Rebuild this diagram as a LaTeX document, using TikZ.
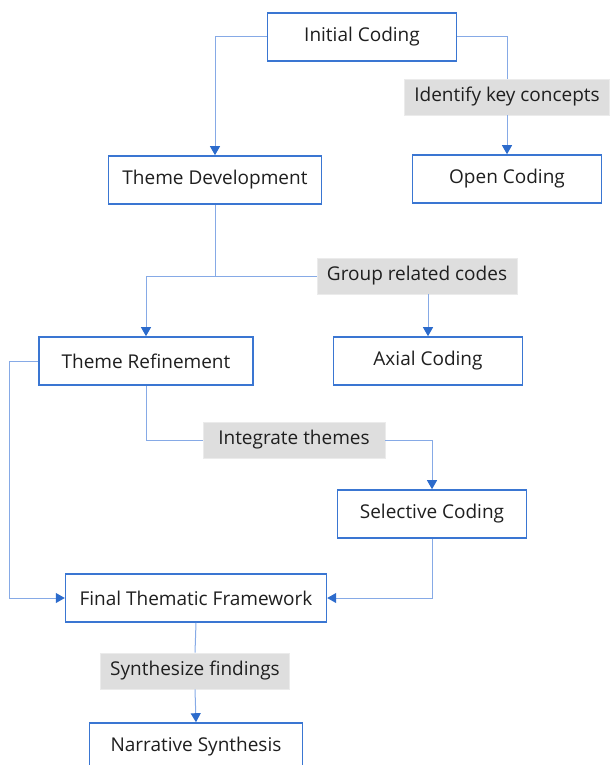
\documentclass[tikz,border=0pt]{standalone}
\usepackage{fontspec}
\setmainfont{Open Sans}
\usetikzlibrary{arrows.meta, positioning}
\definecolor{codeBorder}{HTML}{3a76d2}
\definecolor{codeLine}{HTML}{86aae6}
\definecolor{codeTip}{HTML}{2c6bcc}
\definecolor{codeTag}{HTML}{dedede}
\definecolor{codeInk}{HTML}{1f1f1f}

\begin{document}
\begin{tikzpicture}[x=1pt, y=-1pt, font=\fontsize{19}{23}\selectfont, text=codeInk,
        stage/.style={draw=codeBorder, line width=1.6pt, fill=white, minimum width=189pt, minimum height=48pt, inner xsep=14pt},
        tag/.style={fill=codeTag, draw=codeTag!60!white, line width=0.8pt, minimum height=36pt, inner xsep=10pt},
        link/.style={codeLine, line width=1pt},
        arr/.style={link, -{Triangle[length=9pt, width=10pt, color=codeTip]}}]
        \clip (0,0) rectangle (611,765);
        \node[stage] (ic) at (362,37) {Initial Coding};
        \node[tag] (key) at (507,97) {Identify key concepts};
        \node[stage] (oc) at (507,179) {Open Coding};
        \node[stage] (td) at (215,180) {Theme Development};
        \node[tag] (grp) at (417,276) {Group related codes};
        \node[stage, minimum width=214pt] (tr) at (146,361) {Theme Refinement};
        \node[stage] (ac) at (428,361) {Axial Coding};
        \node[tag, minimum width=182pt] (intg) at (294,440) {Integrate themes};
        \node[stage] (sc) at (432,514) {Selective Coding};
        \node[stage] (ftf) at (196,598) {Final Thematic Framework};
        \node[tag] (syn) at (195,671) {Synthesize findings};
        \node[stage, minimum width=213pt] (ns) at (196,747) {Narrative Synthesis};
        \coordinate (split) at (td.south |- grp.west);
        \draw[arr] (ic.west) -| (td.north);
        \draw[link] (ic.east) -| (key.north);
        \draw[arr] (key.south) -- (oc.north);
        \draw[link] (td.south) -- (split) -- (grp.west);
        \draw[arr] (split) -| (tr.north);
        \draw[arr] (grp.south -| ac.north) -- (ac.north);
        \draw[link] (tr.south) |- (intg.west);
        \draw[arr] (intg.east) -| (sc.north);
        \draw[arr] (tr.west) -- ++(-29,0) |- (ftf.west);
        \draw[arr] (sc.south) |- (ftf.east);
        \draw[link] (ftf.south) -- (syn.north);
        \draw[arr] (syn.south) -- (ns.north);
      \end{tikzpicture}
\end{document}
